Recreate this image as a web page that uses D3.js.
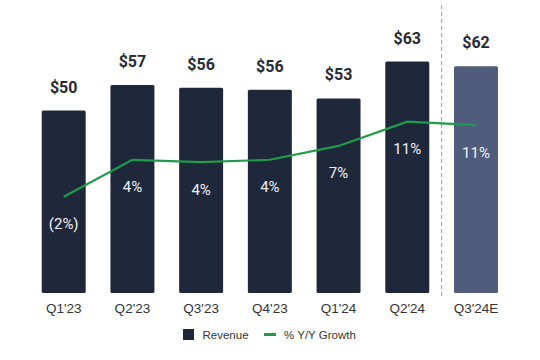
<!DOCTYPE html>
<html>
<head>
<meta charset="utf-8">
<script src="https://cdn.jsdelivr.net/npm/d3@7"></script>
<style>
html,body{margin:0;padding:0;background:#fff;}
svg{display:block;}
</style>
</head>
<body>
<svg id="chart" width="540" height="360"></svg>
<script>
const categories = ["Q1'23","Q2'23","Q3'23","Q4'23","Q1'24","Q2'24","Q3'24E"];
const revenue = [50.0, 57.0, 56.2, 55.7, 53.3, 63.4, 62.1];
const revenueLabels = ["$50","$57","$56","$56","$53","$63","$62"];
const growth = [-2.0, 4.4, 4.0, 4.4, 6.8, 11.0, 10.4];
const growthLabels = ["(2%)","4%","4%","4%","7%","11%","11%"];
const forecast = [false,false,false,false,false,false,true];
const legendLabels = ["Revenue","% Y/Y Growth"];

const svg = d3.select("#chart");
const navy = "#1f283b", slate = "#4f5c7c", green = "#1f9c4a";

const x = d3.scaleBand().domain(categories).range([29.35, 510.35]).paddingInner(0.36).paddingOuter(0.18);
const y = d3.scaleLinear().domain([0, 80]).range([293, 1]);
const yg = d3.scaleLinear().domain([-2, 11]).range([196.7, 121.7]);

// bars
svg.selectAll("rect.bar").data(categories).join("rect")
  .attr("class","bar")
  .attr("x", d => x(d))
  .attr("y", (d,i) => y(revenue[i]))
  .attr("width", x.bandwidth())
  .attr("height", (d,i) => y(0) - y(revenue[i]))
  .attr("rx", 1.5)
  .attr("fill", (d,i) => forecast[i] ? slate : navy);

// revenue labels
svg.selectAll("text.rev").data(categories).join("text")
  .attr("class","rev")
  .attr("x", d => x(d) + x.bandwidth()/2)
  .attr("y", (d,i) => y(revenue[i]) - 18)
  .attr("text-anchor","middle")
  .attr("font-family","Roboto, Inter, sans-serif")
  .attr("font-weight","bold")
  .attr("font-size", 16)
  .attr("fill","#262b36")
  .text((d,i) => revenueLabels[i]);

// dashed separator
const sepX = (x(categories[5]) + x.bandwidth() + x(categories[6])) / 2;
svg.append("line")
  .attr("x1", sepX).attr("x2", sepX)
  .attr("y1", 5).attr("y2", 296)
  .attr("stroke","#9a9a9a").attr("stroke-width",1)
  .attr("stroke-dasharray","4,3");

// growth line
const line = d3.line()
  .x((d,i) => x(categories[i]) + x.bandwidth()/2)
  .y(d => yg(d));
svg.append("path")
  .datum(growth)
  .attr("d", line)
  .attr("fill","none")
  .attr("stroke", green)
  .attr("stroke-width", 2.2);

// growth labels
svg.selectAll("text.gr").data(categories).join("text")
  .attr("class","gr")
  .attr("x", d => x(d) + x.bandwidth()/2)
  .attr("y", (d,i) => yg(growth[i]) + 32.5)
  .attr("text-anchor","middle")
  .attr("font-family","Roboto, sans-serif")
  .attr("font-size", 15)
  .attr("fill","#eef0f4")
  .text((d,i) => growthLabels[i]);

// x axis labels
const xAxis = d3.axisBottom(x).tickSize(0).tickPadding(10.5);
const gx = svg.append("g").attr("transform","translate(0,293)").call(xAxis);
gx.select(".domain").remove();
gx.selectAll("text")
  .attr("font-family","Liberation Sans, Arial, sans-serif")
  .attr("font-size", 13.5)
  .attr("fill","#333");

// legend
const lg = svg.append("g");
lg.append("rect").attr("x",183).attr("y",329).attr("width",11).attr("height",11).attr("fill",navy);
lg.append("text").attr("x",202.5).attr("y",338.5)
  .attr("font-family","Liberation Sans, Arial, sans-serif").attr("font-size",11.5).attr("fill","#333")
  .text(legendLabels[0]);
lg.append("line").attr("x1",264).attr("x2",276).attr("y1",334.5).attr("y2",334.5)
  .attr("stroke",green).attr("stroke-width",3);
lg.append("text").attr("x",284).attr("y",338.5)
  .attr("font-family","Liberation Sans, Arial, sans-serif").attr("font-size",11.5).attr("fill","#333")
  .text(legendLabels[1]);
</script>
</body>
</html>
